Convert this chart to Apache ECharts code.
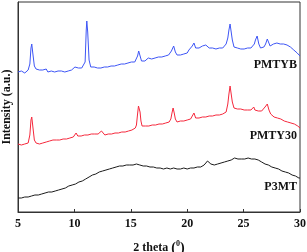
<!DOCTYPE html>
<html><head><meta charset="utf-8">
<script src="https://cdn.jsdelivr.net/npm/echarts@6/dist/echarts.min.js"></script>
<style>html,body{margin:0;padding:0;background:#fff}#c{width:307px;height:252px}</style>
</head><body><div id="c"></div>
<script>
const xTicks = [5, 10, 15, 20, 25, 30];
const seriesNames = ['PMTYB', 'PMTY30', 'P3MT'];
const pmtyb = [
[5.0,140],[5.15,139],[5.3,141],[5.45,140],[5.6,139],[5.75,141],[5.9,142],[6.05,148],[6.15,164],[6.22,168],
[6.3,160],[6.45,146],[6.6,143],[6.75,141],[6.9,142],[7.05,140],[7.2,142],[7.35,141],[7.5,143],[7.65,140],
[7.8,142],[7.95,141],[8.1,143],[8.25,140],[8.4,142],[8.55,141],[8.7,143],[8.85,141],[9.0,142],[9.15,140],
[9.3,142],[9.45,141],[9.6,143],[9.75,142],[9.9,144],[10.05,145],[10.2,143],[10.35,144],[10.5,142],[10.65,144],
[10.8,145],[10.95,150],[11.05,182],[11.1,191],[11.18,180],[11.3,152],[11.45,145],[11.6,143],[11.75,145],[11.9,143],
[12.05,144],[12.2,142],[12.35,144],[12.5,143],[12.65,145],[12.8,143],[12.95,145],[13.1,144],[13.25,146],[13.4,144],
[13.55,146],[13.7,145],[13.85,147],[14.0,146],[14.15,148],[14.3,146],[14.45,148],[14.6,147],[14.75,149],[14.9,148],
[15.05,150],[15.2,148],[15.35,150],[15.5,152],[15.6,156],[15.7,161],[15.8,157],[15.95,151],[16.1,153],[16.25,151],
[16.4,152],[16.55,154],[16.7,152],[16.85,153],[17.0,151],[17.15,154],[17.3,152],[17.45,155],[17.6,153],[17.75,155],
[17.9,154],[18.05,156],[18.2,155],[18.35,157],[18.5,158],[18.6,161],[18.7,163],[18.8,166],[18.95,160],[19.1,157],
[19.25,158],[19.4,157],[19.55,159],[19.7,158],[19.85,160],[20.0,159],[20.15,162],[20.3,163],[20.45,166],[20.6,169],
[20.75,164],[20.9,162],[21.05,164],[21.2,163],[21.35,166],[21.5,164],[21.65,167],[21.8,166],[21.95,164],[22.1,166],
[22.25,164],[22.4,165],[22.55,163],[22.7,165],[22.85,164],[23.0,166],[23.15,164],[23.3,166],[23.45,168],[23.6,174],
[23.7,182],[23.8,188],[23.9,180],[24.0,172],[24.15,165],[24.3,163],[24.45,164],[24.6,162],[24.75,163],[24.9,161],
[25.05,163],[25.2,162],[25.35,164],[25.5,162],[25.65,164],[25.8,165],[25.95,168],[26.05,172],[26.2,176],[26.35,168],
[26.5,164],[26.65,163],[26.8,165],[26.95,168],[27.1,173],[27.2,172],[27.35,166],[27.5,165],[27.65,168],[27.8,166],
[27.95,169],[28.1,167],[28.25,168],[28.4,166],[28.55,168],[28.7,166],[28.85,167],[29.0,165],[29.15,165],[29.3,163],
[29.45,162],[29.6,160],[29.75,159],[29.9,157],[30.0,156]
];
const pmty30 = [
[5.0,68],[5.15,69],[5.3,67],[5.45,69],[5.6,68],[5.75,70],[5.9,69],[6.05,77],[6.15,92],[6.22,95],
[6.3,87],[6.45,72],[6.6,69],[6.75,70],[6.9,68],[7.05,70],[7.2,69],[7.35,71],[7.5,70],[7.65,69],
[7.8,71],[7.95,70],[8.1,72],[8.25,70],[8.4,72],[8.55,71],[8.7,72],[8.85,71],[9.0,73],[9.15,71],
[9.3,73],[9.45,72],[9.6,74],[9.75,73],[9.9,75],[10.05,77],[10.15,79],[10.3,76],[10.45,74],[10.6,76],
[10.75,75],[10.9,77],[11.05,75],[11.2,77],[11.35,76],[11.5,78],[11.65,76],[11.8,78],[11.95,80],[12.1,78],
[12.25,77],[12.4,81],[12.55,79],[12.7,77],[12.85,79],[13.0,78],[13.15,80],[13.3,78],[13.45,80],[13.6,79],
[13.75,81],[13.9,79],[14.05,81],[14.2,80],[14.35,82],[14.5,80],[14.65,82],[14.8,81],[14.95,83],[15.1,82],
[15.25,83],[15.4,84],[15.5,87],[15.6,98],[15.68,106],[15.74,108],[15.82,100],[15.9,91],[16.0,86],[16.15,85],
[16.3,86],[16.45,84],[16.6,86],[16.75,85],[16.9,87],[17.05,85],[17.2,87],[17.35,86],[17.5,88],[17.65,86],
[17.8,88],[17.95,87],[18.1,89],[18.25,88],[18.4,90],[18.55,93],[18.65,99],[18.75,104],[18.85,99],[18.95,93],
[19.1,90],[19.25,89],[19.4,91],[19.55,89],[19.7,91],[19.85,90],[20.0,92],[20.15,91],[20.3,93],[20.45,96],
[20.6,99],[20.75,94],[20.9,92],[21.05,94],[21.2,92],[21.35,95],[21.5,93],[21.65,95],[21.8,94],[21.95,96],
[22.1,94],[22.25,96],[22.4,95],[22.55,97],[22.7,95],[22.85,97],[23.0,96],[23.15,98],[23.3,97],[23.45,100],
[23.6,108],[23.7,118],[23.8,126],[23.9,118],[24.0,110],[24.15,104],[24.3,102],[24.45,103],[24.6,101],[24.75,103],
[24.9,101],[25.05,102],[25.2,100],[25.35,102],[25.5,101],[25.65,102],[25.8,104],[25.9,105],[26.0,102],[26.15,100],
[26.3,101],[26.45,99],[26.6,101],[26.75,102],[26.9,105],[27.0,107],[27.1,108],[27.25,102],[27.4,98],[27.55,97],
[27.7,95],[27.85,96],[28.0,94],[28.15,95],[28.3,93],[28.45,93],[28.6,91],[28.75,92],[28.9,90],[29.05,91],
[29.2,89],[29.35,89],[29.5,88],[29.65,87],[29.8,86],[30.0,84]
];
const p3mt = [
[5.0,14],[5.15,15],[5.3,14],[5.45,16],[5.6,15],[5.75,16],[5.9,15],[6.05,17],[6.2,16],[6.35,18],
[6.5,17],[6.65,18],[6.8,17],[6.95,19],[7.1,18],[7.25,20],[7.4,19],[7.55,21],[7.7,20],[7.85,21],
[8.0,20],[8.15,22],[8.3,21],[8.45,23],[8.6,22],[8.75,24],[8.9,23],[9.05,25],[9.2,24],[9.35,26],
[9.5,26],[9.65,27],[9.8,27],[9.95,29],[10.1,28],[10.25,30],[10.4,30],[10.55,32],[10.7,31],[10.85,33],
[11.0,33],[11.15,35],[11.3,35],[11.45,37],[11.6,37],[11.75,39],[11.9,38],[12.05,40],[12.2,40],[12.35,42],
[12.5,41],[12.65,43],[12.8,42],[12.95,44],[13.1,43],[13.25,45],[13.4,44],[13.55,46],[13.7,45],[13.85,47],
[14.0,46],[14.15,47],[14.3,46],[14.45,48],[14.6,47],[14.75,48],[14.9,47],[15.05,49],[15.2,47],[15.35,49],
[15.5,48],[15.65,48],[15.8,47],[15.95,48],[16.1,46],[16.25,47],[16.4,46],[16.55,47],[16.7,45],[16.85,46],
[17.0,45],[17.15,46],[17.3,44],[17.45,45],[17.6,44],[17.75,45],[17.9,43],[18.05,45],[18.2,44],[18.35,45],
[18.5,43],[18.65,45],[18.8,44],[18.95,45],[19.1,43],[19.25,44],[19.4,43],[19.55,45],[19.7,44],[19.85,45],
[20.0,43],[20.15,45],[20.3,44],[20.45,45],[20.6,44],[20.75,46],[20.9,45],[21.05,46],[21.2,45],[21.35,47],
[21.5,47],[21.65,49],[21.8,51],[21.95,52],[22.1,48],[22.25,46],[22.4,47],[22.55,46],[22.7,48],[22.85,47],
[23.0,49],[23.15,48],[23.3,50],[23.45,49],[23.6,51],[23.75,50],[23.9,52],[24.05,51],[24.2,54],[24.35,55],
[24.5,53],[24.65,54],[24.8,53],[24.95,55],[25.1,53],[25.25,55],[25.4,54],[25.55,55],[25.7,53],[25.85,55],
[26.0,53],[26.15,52],[26.3,52],[26.45,50],[26.6,50],[26.75,48],[26.9,48],[27.05,46],[27.2,47],[27.35,45],
[27.5,45],[27.65,43],[27.8,44],[27.95,42],[28.1,43],[28.25,41],[28.4,41],[28.55,40],[28.7,40],[28.85,38],
[29.0,39],[29.15,37],[29.3,37],[29.45,36],[29.6,36],[29.75,35],[29.9,34],[30.0,34]
];
const colors = ['#3d55f5', '#f5283c', '#1a1a1a'];
const font = '"Liberation Serif", "Times New Roman", serif';
const chart = echarts.init(document.getElementById('c'), null, {renderer: 'canvas'});
const datasets = [pmtyb, pmty30, p3mt];
chart.setOption({
  animation: false,
  grid: {left: 18, right: 7, top: 2, bottom: 40, containLabel: false, outerBoundsMode: 'none',
    show: true, borderColor: '#333', borderWidth: 1, backgroundColor: 'transparent'},
  xAxis: {
    type: 'value', min: 5, max: 30, interval: 5,
    axisLine: {show: true, lineStyle: {color: '#333', width: 1}},
    axisTick: {show: true, inside: true, length: 3, lineStyle: {color: '#333'}},
    splitLine: {show: false},
    axisLabel: {color: '#111', fontFamily: font, fontWeight: 'bold', fontSize: 12, margin: 6,
      formatter: v => xTicks.includes(v) ? String(v) : ''},
    name: '{a|2 theta }{p|(}{s|0}{p|)}',
    nameLocation: 'middle', nameGap: 28,
    nameTextStyle: {rich: {
      a: {fontFamily: font, fontWeight: 'bold', fontSize: 12, color: '#111'},
      p: {fontFamily: font, fontWeight: 'bold', fontSize: 14, color: '#111'},
      s: {fontFamily: font, fontWeight: 'bold', fontSize: 8, color: '#111', verticalAlign: 'top', padding: [0,0,8,0]}
    }}
  },
  yAxis: {
    type: 'value', min: 0, max: 210,
    axisLine: {show: true, lineStyle: {color: '#333', width: 1}},
    axisTick: {show: false}, axisLabel: {show: false}, splitLine: {show: false},
    name: 'Intensity (a.u.)', nameLocation: 'middle', nameGap: 5,
    nameTextStyle: {fontFamily: font, fontWeight: 'bold', fontSize: 12, color: '#111'}
  },
  series: datasets.map((d, i) => ({
    type: 'line', name: seriesNames[i], data: d, showSymbol: false,
    lineStyle: {color: colors[i], width: 1}, itemStyle: {color: colors[i]}
  })),
  graphic: [
    {type: 'text', right: 10, top: 59, style: {text: seriesNames[0], font: 'bold 12px ' + font, fill: '#111'}},
    {type: 'text', right: 10, top: 130, style: {text: seriesNames[1], font: 'bold 12px ' + font, fill: '#111'}},
    {type: 'text', right: 10, top: 181, style: {text: seriesNames[2], font: 'bold 12px ' + font, fill: '#111'}}
  ]
});
</script></body></html>
